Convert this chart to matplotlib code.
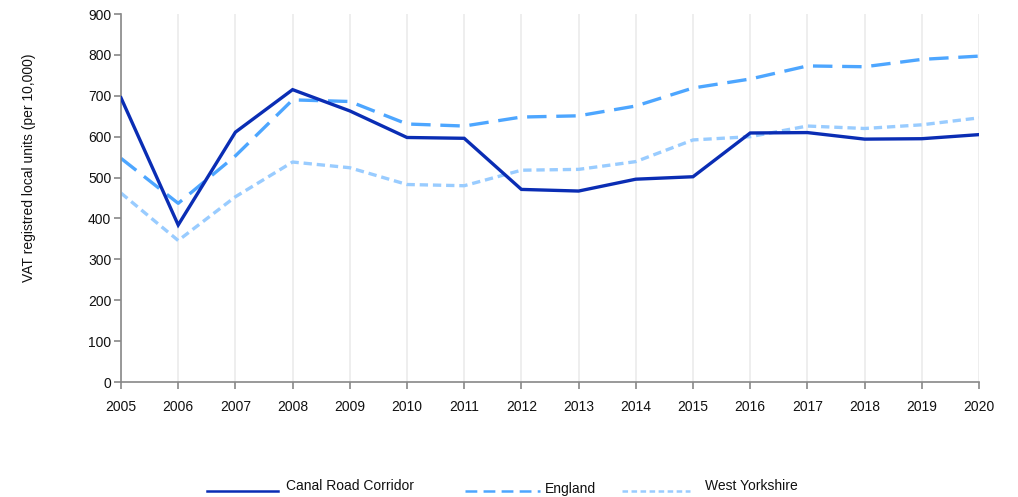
import matplotlib
matplotlib.use('Agg')
import matplotlib.pyplot as plt
from matplotlib.lines import Line2D

plt.rcParams['font.family'] = ['Liberation Sans', 'DejaVu Sans']
plt.rcParams['lines.scale_dashes'] = False

years = list(range(2005, 2021))
canal_road = [695, 384, 611, 715, 663, 598, 596, 471, 467, 496, 502, 609, 610, 594, 595, 605]
england = [547, 437, 553, 690, 686, 631, 626, 648, 651, 675, 719, 741, 773, 771, 789, 797]
west_yorks = [462, 346, 453, 538, 524, 483, 480, 518, 520, 539, 592, 600, 626, 620, 629, 646]

c_canal = '#0a2db4'
c_eng = '#4da6ff'
c_wy = '#99ccff'

fig = plt.figure(figsize=(10.18, 4.97), dpi=100)
ax = fig.add_axes([121 / 1018, 1 - 382 / 497, 858 / 1018, 368 / 497])

ax.plot(years, canal_road, color=c_canal, lw=2.4, solid_joinstyle='miter', zorder=3)
ax.plot(years, england, color=c_eng, lw=2.4, dashes=(14, 7), zorder=2)
ax.plot(years, west_yorks, color=c_wy, lw=2.4, dashes=(6, 3.5), zorder=1)

ax.set_xlim(2005, 2020)
ax.set_ylim(0, 900)
ax.set_xticks(years)
ax.set_yticks(range(0, 901, 100))
ax.grid(axis='x', color='#ebebeb', lw=1.2, zorder=0)
ax.set_axisbelow(True)

for s in ['top', 'right']:
    ax.spines[s].set_visible(False)
for s in ['left', 'bottom']:
    ax.spines[s].set_color('#888888')
    ax.spines[s].set_linewidth(1.2)
ax.tick_params(colors='#888888', length=5, width=1.2, labelcolor='#111111', labelsize=10)
ax.tick_params(axis='x', pad=8)
ax.tick_params(axis='y', pad=2)

fig.text(29 / 1018, 1 - 168 / 497, 'VAT registred local units (per 10,000)',
         rotation=90, ha='center', va='center', fontsize=10, color='#111111')

# legend along the bottom
def key(x0, x1, y, color, dashes, label, tx, ty):
    kw = dict(color=color, lw=1.8, transform=fig.transFigure)
    if dashes:
        kw['dashes'] = dashes
    fig.add_artist(Line2D([x0 / 1018, x1 / 1018], [1 - y / 497, 1 - y / 497], **kw))
    fig.text(tx / 1018, 1 - ty / 497, label, ha='left', va='center', fontsize=10, color='#111111')

key(207, 278, 491, c_canal, None, 'Canal Road Corridor', 286, 486)
key(465, 540, 491, c_eng, (8.5, 4.5), 'England', 545, 489)
key(622, 690, 491, c_wy, (4, 2.5), 'West Yorkshire', 705, 486)

fig.savefig('out.png', dpi=100)
